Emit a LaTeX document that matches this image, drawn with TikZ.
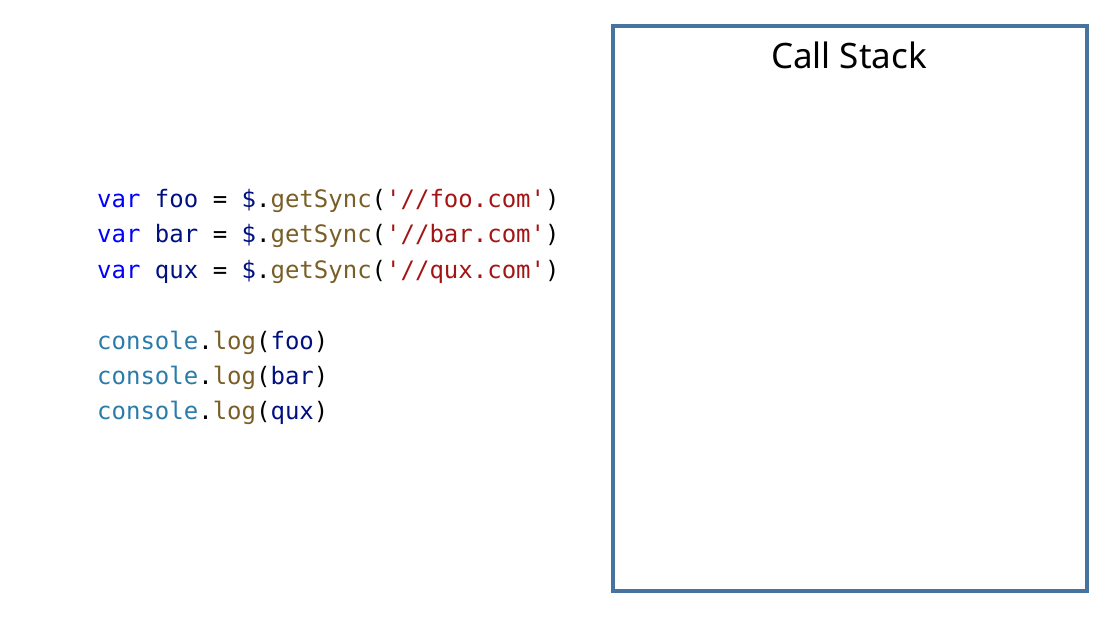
\documentclass[tikz,border=0pt]{standalone}
\usepackage{fontspec}
\setmainfont{Noto Sans}
\setmonofont{DejaVu Sans Mono}
\usepackage{xcolor}
\usepackage{tikz}

\definecolor{kwblue}{HTML}{0000FF}
\definecolor{varnavy}{HTML}{001080}
\definecolor{fnbrown}{HTML}{795E26}
\definecolor{strred}{HTML}{A31515}
\definecolor{clsteal}{HTML}{2B7BAA}
\definecolor{stackblue}{RGB}{71,116,158}

\newcommand{\kw}[1]{\textcolor{kwblue}{#1}}
\newcommand{\vn}[1]{\textcolor{varnavy}{#1}}
\newcommand{\fn}[1]{\textcolor{fnbrown}{#1}}
\newcommand{\str}[1]{\textcolor{strred}{#1}}
\newcommand{\cls}[1]{\textcolor{clsteal}{#1}}

\begin{document}
\begin{tikzpicture}[x=1pt,y=-1pt,
  codeline/.style={anchor=base west,inner sep=0pt,font=\ttfamily\fontsize{24}{28}\selectfont},
  stackbox/.style={draw=stackblue,line width=3.5pt}]
\useasboundingbox (0,0) rectangle (1111,616);
% code
\node[codeline] (L1) at (97,207) {\kw{var} \vn{foo} = \vn{\$}.\fn{getSync}(\str{'//foo.com'})};
\node[codeline] (L2) at (97,242.5) {\kw{var} \vn{bar} = \vn{\$}.\fn{getSync}(\str{'//bar.com'})};
\node[codeline] (L3) at (97,278) {\kw{var} \vn{qux} = \vn{\$}.\fn{getSync}(\str{'//qux.com'})};
\node[codeline] (L5) at (97,349) {\cls{console}.\fn{log}(\vn{foo})};
\node[codeline] (L6) at (97,384) {\cls{console}.\fn{log}(\vn{bar})};
\node[codeline] (L7) at (97,419) {\cls{console}.\fn{log}(\vn{qux})};
% call stack
\draw[stackbox] (613,26) rectangle (1087,591);
\node[font=\fontsize{35}{42}\selectfont] (title) at (849,55) {Call Stack};
\end{tikzpicture}
\end{document}
